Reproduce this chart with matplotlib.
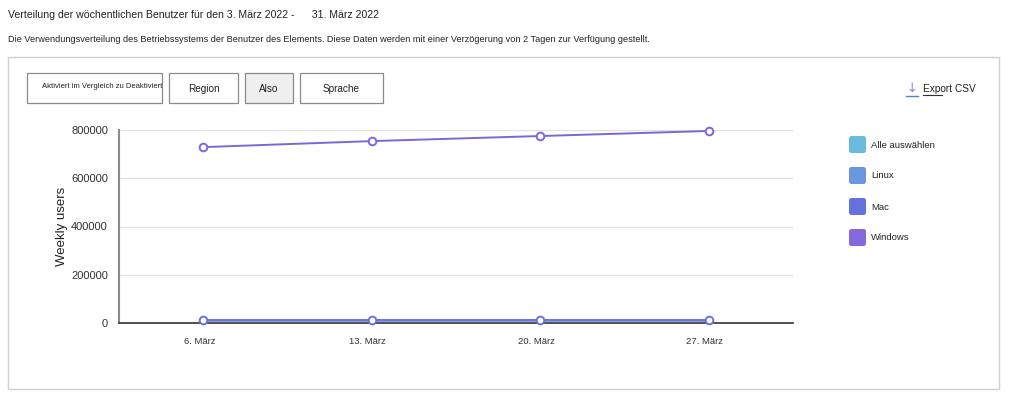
import matplotlib
matplotlib.use("Agg")
import matplotlib.pyplot as plt
from matplotlib.patches import Rectangle, FancyBboxPatch
import matplotlib.transforms as mtransforms

plt.rcParams['font.family'] = ['Liberation Sans', 'DejaVu Sans']

# ---- data ----
weeks = ["6. März", "13. März", "20. März", "27. März"]
windows = [729000, 754000, 775000, 796000]
mac = [14000, 14000, 14000, 14000]
linux = [8000, 8000, 8000, 8000]
legend_names = ["Alle auswählen", "Linux", "Mac", "Windows"]
legend_colors = ["#6bb9dd", "#6a97e0", "#6771dc", "#8468dc"]
yticks = [0, 200000, 400000, 600000, 800000]
buttons = ["Aktiviert im Vergleich zu Deaktiviert", "Region", "Also", "Sprache"]

W, H = 1009, 399
fig = plt.figure(figsize=(W / 100, H / 100), dpi=100)

# overlay for page decorations (pixel coords)
ov = fig.add_axes([0, 0, 1, 1], zorder=0)
ov.set_xlim(0, W)
ov.set_ylim(H, 0)
ov.axis("off")

ov.text(8, 15, "Verteilung der wöchentlichen Benutzer für den 3. März 2022 -      31. März 2022",
        fontsize=7.6, va="center", ha="left", color="#222222")
ov.text(8, 40, "Die Verwendungsverteilung des Betriebssystems der Benutzer des Elements. Diese Daten werden mit einer Verzögerung von 2 Tagen zur Verfügung gestellt.",
        fontsize=6.6, va="center", ha="left", color="#222222")

# outer panel
ov.add_patch(Rectangle((8, 57), 991, 332, fill=False, edgecolor="#d0d0d0", lw=1))

# buttons
btn_geo = [(27, 135), (169, 69), (245, 48), (300, 83)]
for (x0, w), lab in zip(btn_geo, buttons):
    fc = "#efefef" if lab == "Also" else "white"
    ov.add_patch(Rectangle((x0, 73), w, 30, facecolor=fc, edgecolor="#8a8a8a", lw=0.9))
    long = len(lab) > 20
    fs = 5.5 if long else 7.2
    ov.text(x0 + w / 2 + (8 if long else 0), 87 if long else 89, lab, fontsize=fs,
            ha="center", va="center", color="#222222")

# export csv
ov.text(912, 88, "↓", fontsize=9, ha="center", va="center", color="#9a7fd6", family=["DejaVu Sans"])
ov.plot([906, 918], [96, 96], color="#4a86c8", lw=1)
ov.text(923, 89, "Export CSV", fontsize=7.3, ha="left", va="center", color="#222222")
ov.plot([923, 942], [95, 95], color="#333333", lw=0.8)

# legend
for i, (name, col) in enumerate(zip(legend_names, legend_colors)):
    y = 136 + i * 31
    ov.add_patch(FancyBboxPatch((849, y), 17, 17, boxstyle="round,pad=0,rounding_size=2.5",
                                facecolor=col, edgecolor="none"))
    ov.text(871, y + 9, name, fontsize=6.8, ha="left", va="center", color="#222222")

# ---- chart ----
left, right, top, bottom = 119, 793, 130, 323
ax = fig.add_axes([left / W, (H - bottom) / H, (right - left) / W, (bottom - top) / H], zorder=1)
ax.patch.set_alpha(0)
x = list(range(len(weeks)))

ax.plot(x, linux, color="#8f9fe8", lw=1.4, clip_on=False, zorder=3)
ax.plot(x, mac, color="#6b70dc", lw=1.4, marker="o", markersize=5.5,
        markerfacecolor="white", markeredgewidth=1.4, clip_on=False, zorder=4)
ax.plot(x, windows, color="#7b67da", lw=1.4, marker="o", markersize=5.5,
        markerfacecolor="white", markeredgewidth=1.4, clip_on=False, zorder=4)

ax.set_xlim(-0.5, len(weeks) - 0.5)
ax.set_ylim(0, 800000)
ax.set_yticks(yticks)
ax.set_yticklabels([str(v) for v in yticks], fontsize=8, color="#333333")
ax.set_xticks(x)
ax.set_xticklabels(weeks, fontsize=6.8, color="#333333")
ax.tick_params(axis="both", length=0)
ax.tick_params(axis="x", pad=10)
ax.tick_params(axis="y", pad=8)
off = mtransforms.ScaledTranslation(-4 / 100, 0, fig.dpi_scale_trans)
for lbl in ax.get_xticklabels():
    lbl.set_transform(lbl.get_transform() + off)
ax.grid(axis="y", color="#e2e2e2", lw=1)
ax.set_axisbelow(True)
for s in ["top", "right"]:
    ax.spines[s].set_visible(False)
ax.spines["left"].set_color("#8c8c8c")
ax.spines["left"].set_linewidth(1.5)
ax.spines["bottom"].set_color("#333333")
ax.spines["bottom"].set_linewidth(1.2)
ax.set_ylabel("Weekly users", fontsize=9.5, color="#222222", labelpad=2)

fig.savefig("out.png", dpi=100)
